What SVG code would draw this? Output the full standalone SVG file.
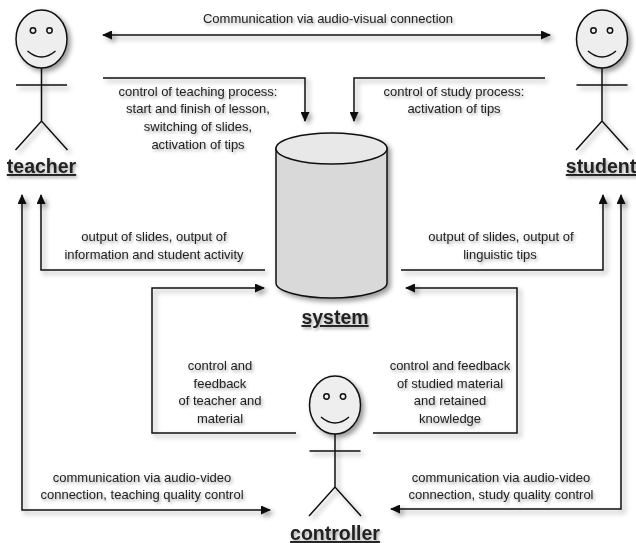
<svg xmlns="http://www.w3.org/2000/svg" width="636" height="543" viewBox="0 0 636 543">
<style>
text{font-family:"Liberation Sans",Arial,sans-serif;fill:#222}
.t{font-size:13px;text-anchor:middle}
.l{font-size:19.500px;font-weight:bold;text-anchor:middle;text-decoration:underline}
.c{fill:none;stroke:#111;stroke-width:1.500}
.s{fill:none;stroke:#111;stroke-width:1.500}
.h{fill:#eee;stroke:#111;stroke-width:1.500}
</style>
<defs>
<filter id="sh" x="-30%" y="-30%" width="170%" height="170%"><feDropShadow dx="3" dy="3" stdDeviation="2.500" flood-color="#000" flood-opacity="0.4"/></filter>
<filter id="ts" x="-10%" y="-30%" width="125%" height="180%"><feDropShadow dx="1.500" dy="2" stdDeviation="1.500" flood-color="#000" flood-opacity="0.35"/></filter>
<marker id="a" viewBox="0 0 10 10" refX="9" refY="5" markerWidth="10" markerHeight="9" orient="auto-start-reverse" markerUnits="userSpaceOnUse" preserveAspectRatio="none"><path d="M0,0L10,5L0,10Z" fill="#111"/></marker>
<g id="man" class="s"><ellipse class="h" cx="0" cy="0" rx="25.500" ry="29"/><circle cx="-8.500" cy="-8.500" r="2.700" fill="#eee"/><circle cx="8" cy="-8.500" r="2.700" fill="#eee"/><path d="M-14,12Q0,24 14,12"/><path d="M0,29V82M-25.500,46H25.500M-26,111L0,82L26,111"/></g>
</defs>
<g id="connectors" filter="url(#sh)">
<path class="c" marker-start="url(#a)" marker-end="url(#a)" d="M103,35H550"/>
<path class="c" marker-end="url(#a)" d="M103,78H305V121"/>
<path class="c" marker-end="url(#a)" d="M545,78H354V121"/>
<path class="c" marker-end="url(#a)" d="M265,270H41V195"/>
<path class="c" marker-end="url(#a)" d="M401,270H603V195"/>
<path class="c" marker-end="url(#a)" d="M296,433H152V288H264"/>
<path class="c" marker-end="url(#a)" d="M373,433H517V288H406"/>
<path class="c" marker-start="url(#a)" marker-end="url(#a)" d="M22,195V510H270"/>
<path class="c" marker-start="url(#a)" marker-end="url(#a)" d="M391,509H621V195"/>
</g>
<g id="teacher"><use href="#man" x="41.500" y="39" filter="url(#sh)"/><text class="l" x="41.500" y="173" filter="url(#ts)">teacher</text></g>
<g id="student"><use href="#man" x="602" y="39" filter="url(#sh)"/><text class="l" x="601" y="173" filter="url(#ts)">student</text></g>
<g id="controller"><use href="#man" x="335" y="405" filter="url(#sh)"/><text class="l" x="335" y="540" filter="url(#ts)">controller</text></g>
<g id="system"><g filter="url(#sh)"><path d="M276,148V283C276,291 301,298 331.500,298C362,298 387,291 387,283V148Z" fill="#d9d9d9" stroke="#111" stroke-width="1.500"/><ellipse cx="331.500" cy="148.500" rx="55.500" ry="15.500" fill="#e8e8e8" stroke="#111" stroke-width="1.500"/></g><text class="l" x="335" y="324" filter="url(#ts)">system</text></g>
<g id="labels" filter="url(#ts)">
<text class="t" x="328" y="23">Communication via audio-visual connection</text>
<text class="t" x="198" y="96">control of teaching process:</text>
<text class="t" x="198" y="113">start and finish of lesson,</text>
<text class="t" x="198" y="131">switching of slides,</text>
<text class="t" x="198" y="149">activation of tips</text>
<text class="t" x="454" y="96">control of study process:</text>
<text class="t" x="454" y="113">activation of tips</text>
<text class="t" x="154" y="241">output of slides, output of</text>
<text class="t" x="154" y="259">information and student activity</text>
<text class="t" x="501" y="241">output of slides, output of</text>
<text class="t" x="500" y="259">linguistic tips</text>
<text class="t" x="220" y="370">control and</text>
<text class="t" x="220" y="388">feedback</text>
<text class="t" x="220" y="405">of teacher and</text>
<text class="t" x="220" y="423">material</text>
<text class="t" x="450" y="370">control and feedback</text>
<text class="t" x="450" y="388">of studied material</text>
<text class="t" x="450" y="405">and retained</text>
<text class="t" x="450" y="423">knowledge</text>
<text class="t" x="142" y="482">communication via audio-video</text>
<text class="t" x="142" y="499">connection, teaching quality control</text>
<text class="t" x="501" y="482">communication via audio-video</text>
<text class="t" x="501" y="499">connection, study quality control</text>
</g>
</svg>
